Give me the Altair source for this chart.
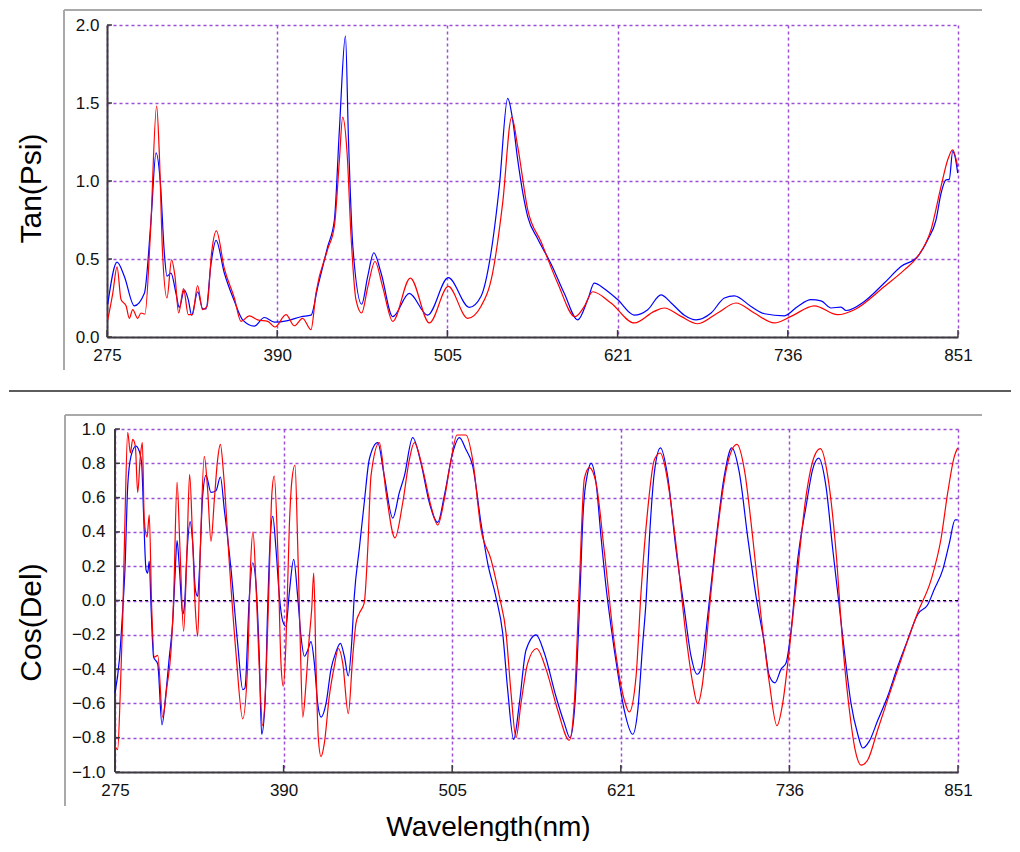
import altair as alt
import pandas as pd

FONT = "Liberation Sans"

# ---------------- data ----------------
tan_blue_wl = [275.5, 281.8, 286.7, 293.5, 300.3, 304.8, 308.2, 311.1, 313.8, 315.6, 318.3, 321.7, 323.9, 327.3,
               330.0, 332.3, 336.4, 339.8, 342.0, 345.4, 348.8, 354.4, 361.2, 366.8, 374.7, 381.5, 388.3, 397.3,
               406.3, 413.1, 417.6, 424.4, 428.9, 432.3, 436.4, 438.4, 441.4, 447.4, 451.5, 455.6, 460.5, 468.4,
               479.6, 492.0, 506.0, 520.2, 528.1, 534.9, 540.5, 546.2, 549.6, 553.0, 559.8, 566.5, 575.5, 584.5,
               593.6, 600.4, 604.8, 611.6, 620.6, 631.9, 641.0, 650.0, 656.7, 665.8, 673.7, 683.9, 692.9, 699.6,
               710.9, 720.0, 733.5, 742.5, 751.5, 758.3, 765.1, 771.8, 775.2, 787.6, 801.1, 812.4, 823.7, 830.5,
               836.1, 839.5, 842.9, 845.1, 847.4, 849.0, 850.8]
tan_blue = [0.21, 0.48, 0.39, 0.20, 0.28, 0.75, 1.18, 0.99, 0.54, 0.39, 0.41, 0.28, 0.19, 0.30,
            0.24, 0.14, 0.29, 0.18, 0.18, 0.47, 0.62, 0.41, 0.23, 0.11, 0.07, 0.125, 0.095, 0.105,
            0.13, 0.14, 0.32, 0.58, 0.75, 1.33, 1.93, 1.28, 0.58, 0.21, 0.39, 0.54, 0.41, 0.13,
            0.28, 0.14, 0.38, 0.19, 0.26, 0.54, 0.96, 1.53, 1.39, 1.135, 0.77, 0.63, 0.47, 0.28,
            0.11, 0.24, 0.345, 0.31, 0.24, 0.14, 0.175, 0.27, 0.22, 0.14, 0.11, 0.154, 0.25, 0.264,
            0.196, 0.149, 0.136, 0.196, 0.239, 0.232, 0.186, 0.192, 0.17, 0.228, 0.346, 0.452, 0.516, 0.623,
            0.75, 0.92, 1.007, 1.01, 1.19, 1.156, 1.05]

tan_red_wl = [275.5, 278.9, 281.8, 284.5, 287.9, 290.1, 292.4, 295.8, 298.0, 300.7, 304.3, 308.6, 310.4, 312.6,
              315.6, 318.7, 321.0, 323.5, 326.8, 330.0, 332.9, 336.3, 339.7, 342.7, 345.8, 349.0, 354.4, 361.2,
              365.7, 371.3, 377.0, 383.8, 388.7, 396.2, 401.8, 407.4, 413.1, 416.4, 424.3, 428.9, 432.3, 434.5,
              437.5, 440.2, 443.5, 447.4, 451.5, 456.4, 461.6, 468.4, 480.3, 493.2, 506.0, 519.1, 528.1, 536.0,
              542.8, 548.9, 553.0, 559.8, 568.8, 580.0, 591.8, 598.1, 603.7, 616.1, 631.9, 645.4, 652.2, 663.5,
              674.8, 688.3, 700.7, 713.1, 726.7, 738.0, 753.8, 769.6, 780.9, 801.2, 814.7, 823.7, 832.7, 839.5,
              844.0, 847.4, 850.8]
tan_red = [0.11, 0.28, 0.45, 0.24, 0.20, 0.12, 0.175, 0.12, 0.154, 0.147, 0.644, 1.48, 1.18, 0.54,
           0.25, 0.495, 0.39, 0.154, 0.31, 0.143, 0.143, 0.33, 0.175, 0.196, 0.54, 0.68, 0.44, 0.25,
           0.10, 0.136, 0.11, 0.10, 0.064, 0.143, 0.072, 0.12, 0.047, 0.28, 0.56, 0.71, 1.135, 1.41,
           1.18, 0.644, 0.24, 0.154, 0.32, 0.484, 0.32, 0.10, 0.378, 0.09, 0.324, 0.12, 0.196, 0.41,
           0.858, 1.41, 1.22, 0.815, 0.61, 0.346, 0.13, 0.196, 0.29, 0.218, 0.09, 0.164, 0.186, 0.132,
           0.085, 0.154, 0.218, 0.154, 0.09, 0.132, 0.2, 0.143, 0.175, 0.324, 0.43, 0.516, 0.687, 0.964,
           1.135, 1.2, 1.09]

cos_blue_wl = [275.0, 278.0, 280.3, 281.8, 283.7, 285.9, 289.3, 291.6, 293.2, 294.6, 296.2, 297.3, 298.4, 299.6,
               301.4, 304.2, 307.1, 309.8, 312.1, 314.4, 316.0, 317.4, 318.9, 321.3, 322.4, 324.2, 326.3, 328.1,
               329.9, 331.5, 332.6, 334.9, 337.2, 340.6, 344.0, 347.0, 349.7, 354.3, 358.8, 362.3, 363.8, 366.8,
               369.1, 371.3, 373.6, 375.2, 377.5, 379.3, 381.1, 382.8, 385.0, 387.3, 389.6, 391.8, 394.1, 397.1,
               399.8, 402.1, 404.4, 406.7, 408.9, 411.2, 413.5, 415.8, 419.2, 422.6, 426.0, 429.0, 431.7, 434.4,
               436.7, 438.5, 441.9, 445.3, 448.8, 454.5, 459.0, 464.8, 469.3, 472.7, 478.4, 484.1, 489.8, 495.5,
               500.0, 505.7, 510.3, 514.8, 519.4, 525.1, 529.6, 535.3, 539.9, 543.3, 547.4, 551.3, 555.8, 562.7,
               568.3, 576.3, 582.0, 585.9, 589.3, 592.3, 595.0, 598.0, 600.3, 603.7, 607.1, 610.5, 613.9, 618.5,
               623.0, 628.8, 632.2, 635.6, 637.9, 640.1, 643.5, 647.7, 652.7, 658.3, 664.0, 668.6, 672.7, 675.4,
               680.0, 685.7, 691.3, 696.4, 701.6, 707.3, 713.0, 718.7, 722.1, 726.0, 730.1, 733.5, 737.0, 741.5,
               747.2, 751.7, 755.8, 760.8, 765.4, 769.9, 773.3, 777.9, 782.5, 785.9, 790.4, 796.1, 802.9, 809.8,
               816.6, 823.5, 830.3, 834.8, 840.6, 845.1, 849.0, 850.8]
cos_blue = [-0.54, -0.345, -0.05, 0.18, 0.67, 0.84, 0.90, 0.87, 0.80, 0.49, 0.18, 0.16, 0.23, -0.03,
            -0.33, -0.37, -0.725, -0.54, -0.33, -0.13, 0.14, 0.35, 0.20, -0.08, -0.036, 0.28, 0.46, 0.335,
            0.064, 0.025, 0.16, 0.61, 0.73, 0.63, 0.64, 0.72, 0.53, 0.18, -0.25, -0.52, -0.51, 0.025,
            0.22, 0.10, -0.33, -0.78, -0.60, -0.05, 0.37, 0.49, 0.30, 0.025, -0.12, -0.15, 0.045, 0.24,
            0.025, -0.21, -0.325, -0.29, -0.24, -0.365, -0.60, -0.68, -0.60, -0.40, -0.30, -0.25, -0.325, -0.44,
            -0.25, 0.025, 0.30, 0.57, 0.825, 0.92, 0.725, 0.48, 0.63, 0.725, 0.95, 0.80, 0.57, 0.455,
            0.61, 0.86, 0.95, 0.88, 0.785, 0.45, 0.22, 0.02, -0.19, -0.52, -0.81, -0.60, -0.29, -0.20,
            -0.305, -0.56, -0.715, -0.80, -0.60, -0.05, 0.53, 0.745, 0.80, 0.685, 0.37, 0.08, -0.15, -0.42,
            -0.64, -0.78, -0.64, -0.25, 0.0, 0.355, 0.745, 0.89, 0.72, 0.30, -0.05, -0.325, -0.43, -0.40,
            -0.09, 0.357, 0.725, 0.89, 0.745, 0.37, 0.025, -0.25, -0.44, -0.48, -0.40, -0.365, -0.17, 0.24,
            0.55, 0.765, 0.83, 0.665, 0.30, -0.035, -0.29, -0.60, -0.78, -0.86, -0.82, -0.70, -0.56, -0.385,
            -0.23, -0.08, -0.025, 0.065, 0.18, 0.335, 0.47, 0.47]

cos_red_wl = [275.0, 276.8, 278.6, 280.3, 281.8, 283.7, 285.5, 287.1, 288.9, 290.5, 292.3, 293.7, 295.0, 296.9,
              298.4, 300.1, 301.9, 304.2, 307.6, 310.5, 313.3, 315.1, 317.4, 319.4, 321.9, 324.2, 326.0, 328.1,
              329.9, 331.5, 333.3, 336.0, 338.3, 340.6, 342.9, 345.1, 347.0, 349.3, 353.1, 357.7, 362.3, 365.7,
              367.5, 369.3, 371.3, 373.6, 375.9, 378.2, 380.4, 382.1, 383.8, 386.2, 388.4, 390.0, 391.8, 394.1,
              395.9, 398.0, 399.8, 401.6, 403.3, 405.5, 407.4, 409.4, 410.8, 412.3, 413.9, 415.8, 418.0, 421.4,
              424.8, 427.6, 430.6, 434.4, 437.4, 439.7, 441.9, 445.3, 447.7, 449.9, 455.6, 460.2, 466.3, 471.6,
              476.1, 479.5, 485.3, 490.9, 495.5, 500.0, 504.6, 508.7, 514.8, 519.4, 525.1, 531.9, 537.6, 542.2,
              545.6, 549.0, 552.4, 557.0, 563.1, 569.5, 577.5, 585.4, 588.8, 592.3, 595.7, 599.1, 603.7, 609.4,
              616.2, 623.0, 626.4, 631.0, 634.4, 639.0, 643.5, 647.5, 651.2, 653.8, 659.5, 665.2, 669.7, 673.1,
              676.5, 681.1, 686.8, 693.6, 700.0, 705.0, 710.7, 716.4, 722.1, 727.3, 731.2, 735.7, 741.5, 747.2,
              752.8, 757.0, 762.0, 767.7, 772.2, 776.8, 780.7, 784.8, 789.3, 796.1, 805.2, 814.3, 823.5, 832.6,
              839.4, 844.0, 848.5, 850.8]
cos_red = [-0.85, -0.87, -0.54, -0.09, 0.47, 0.98, 0.86, 0.94, 0.90, 0.63, 0.84, 0.92, 0.47, 0.37,
           0.50, -0.05, -0.33, -0.32, -0.68, -0.50, -0.29, 0.025, 0.69, 0.30, -0.18, 0.30, 0.735, 0.335,
           -0.05, -0.21, 0.30, 0.84, 0.645, 0.345, 0.59, 0.82, 0.91, 0.725, 0.22, -0.31, -0.69, -0.365,
           0.18, 0.40, 0.10, -0.40, -0.73, -0.445, 0.14, 0.61, 0.725, 0.30, -0.365, -0.50, -0.25, 0.43,
           0.705, 0.79, 0.335, -0.25, -0.68, -0.485, -0.25, -0.05, 0.16, -0.365, -0.80, -0.91, -0.835, -0.56,
           -0.385, -0.28, -0.365, -0.66, -0.33, -0.13, -0.075, -0.014, 0.30, 0.725, 0.92, 0.63, 0.365, 0.57,
           0.82, 0.92, 0.765, 0.55, 0.44, 0.59, 0.82, 0.965, 0.965, 0.82, 0.415, 0.24, 0.025, -0.19,
           -0.54, -0.80, -0.60, -0.365, -0.28, -0.40, -0.64, -0.815, -0.60, 0.10, 0.71, 0.775, 0.685, 0.28,
           -0.25, -0.58, -0.65, -0.445, 0.045, 0.53, 0.82, 0.86, 0.765, 0.63, 0.24, -0.21, -0.48, -0.60,
           -0.48, -0.05, 0.415, 0.80, 0.91, 0.765, 0.37, -0.09, -0.48, -0.73, -0.60, -0.29, 0.18, 0.61,
           0.84, 0.885, 0.725, 0.28, -0.25, -0.64, -0.87, -0.96, -0.93, -0.755, -0.52, -0.29, -0.07, 0.12,
           0.36, 0.63, 0.84, 0.89]

x_ticks = [275, 390.2, 505.4, 620.6, 735.8, 851]
tan_ticks = [0.0, 0.5, 1.0, 1.5, 2.0]
cos_ticks = [-1.0, -0.8, -0.6, -0.4, -0.2, 0.0, 0.2, 0.4, 0.6, 0.8, 1.0]

# ---------------- styling ----------------
W = 851
H1 = 312
H2 = 343
BX0 = 8           # bottom panel starts 8px further right
GRID = "#9b4fd6"
AXC = "#3c3c3c"
FRAME = "#a9a9a9"
SEP = "#5c5c5c"
BLUE = "#0000ff"
RED = "#ff0000"
LBL = 17
YTTL = 30
XTTL = 28

one = pd.DataFrame({"k": [0]})


def df(wl, v):
    return pd.DataFrame({"wl": wl, "v": v})


common_axis = dict(grid=True, gridColor=GRID, gridDash=[3, 3], gridWidth=1.5, ticks=False,
                   domainColor=AXC, domainWidth=2, labelFontSize=LBL, labelFont=FONT,
                   labelColor="#111111", labelOverlap=False, titleFont=FONT,
                   titleFontWeight="normal", titleColor="#000000")

xs_top = alt.Scale(domain=[275, 851], nice=False, zero=False)
xs_bot = alt.Scale(domain=[275, 851], range=[BX0, W], nice=False, zero=False)
ys_top = alt.Scale(domain=[0, 2], nice=False, zero=False)
ys_bot = alt.Scale(domain=[-1, 1], nice=False, zero=False)

xa_top = alt.Axis(values=x_ticks, format=".0f", title=None, labelPadding=10, labelFlush=False, **common_axis)
xa_bot = alt.Axis(values=x_ticks, format=".0f", title="Wavelength(nm)", labelPadding=10, labelFlush=False,
                  titleX=381, titleY=63, titleBaseline="alphabetic", titleAlign="center",
                  titleFontSize=XTTL, **common_axis)
ya_top = alt.Axis(values=tan_ticks, format=".1f", title="Tan(Psi)", labelPadding=8,
                  titleX=-61, titleY=163, titleAlign="center", titleFontSize=YTTL, **common_axis)
ya_bot = alt.Axis(values=cos_ticks, format=".1f", title="Cos(Del)", labelPadding=2, domain=False,
                  titleX=-61, titleY=193, titleAlign="center", titleFontSize=YTTL, **common_axis)


def panel(blue_df, red_df, xs, xa, ys, ya, yticks, H, x0, frame_x, frame_y, frame_bottom, extra):
    X = alt.X("wl:Q", scale=xs, axis=xa)
    Y = alt.Y("v:Q", scale=ys, axis=ya)
    blue = alt.Chart(blue_df).mark_line(color=BLUE, strokeWidth=1.2, interpolate="monotone").encode(x=X, y=Y)
    red = alt.Chart(red_df).mark_line(color=RED, strokeWidth=1.2, interpolate="monotone").encode(x=X, y=Y)
    xt = alt.Chart(pd.DataFrame({"wl": x_ticks})).mark_rule(color=AXC, strokeWidth=1.5).encode(
        x=X, y=alt.value(H), y2=alt.value(H - 7))
    yt = alt.Chart(pd.DataFrame({"v": yticks})).mark_rule(color=AXC, strokeWidth=1.5).encode(
        y=Y, x=alt.value(x0), x2=alt.value(x0 + 5))
    fl = alt.Chart(one).mark_rule(color=FRAME, strokeWidth=2).encode(
        x=alt.value(frame_x), y=alt.value(frame_y), y2=alt.value(frame_bottom))
    ft = alt.Chart(one).mark_rule(color=FRAME, strokeWidth=2).encode(
        x=alt.value(frame_x), x2=alt.value(875), y=alt.value(frame_y))
    return alt.layer(*extra, blue, red, xt, yt, fl, ft)


# top panel extras: separator line under the panel
sep = alt.Chart(one).mark_rule(color=SEP, strokeWidth=2).encode(
    x=alt.value(-98), x2=alt.value(904), y=alt.value(366))

top = panel(df(tan_blue_wl, tan_blue), df(tan_red_wl, tan_red), xs_top, xa_top, ys_top, ya_top,
            tan_ticks, H1, 0, -43, -15, 345, [sep]).properties(width=W, height=H1)

# bottom panel extras: zero line and y-axis line
Yb = alt.Y("v:Q", scale=ys_bot, axis=ya_bot)
zero = alt.Chart(pd.DataFrame({"v": [0.0]})).mark_rule(color="#000000", strokeWidth=1.2,
                                                       strokeDash=[3, 3]).encode(
    y=Yb, x=alt.value(BX0), x2=alt.value(W))
yline = alt.Chart(one).mark_rule(color=AXC, strokeWidth=2).encode(
    x=alt.value(BX0), y=alt.value(0), y2=alt.value(H2))

bottom = panel(df(cos_blue_wl, cos_blue), df(cos_red_wl, cos_red), xs_bot, xa_bot, ys_bot, ya_bot,
               cos_ticks, H2, BX0, -42, -14, 377, [zero, yline]).properties(width=W, height=H2)

chart = alt.vconcat(top, bottom, spacing=22).properties(
    padding={"left": 0, "top": 1, "right": 0, "bottom": 0},
    background="white",
).configure(font=FONT).configure_view(stroke=None)

chart.save("out.html", embed_options={"renderer": "svg", "actions": False})
